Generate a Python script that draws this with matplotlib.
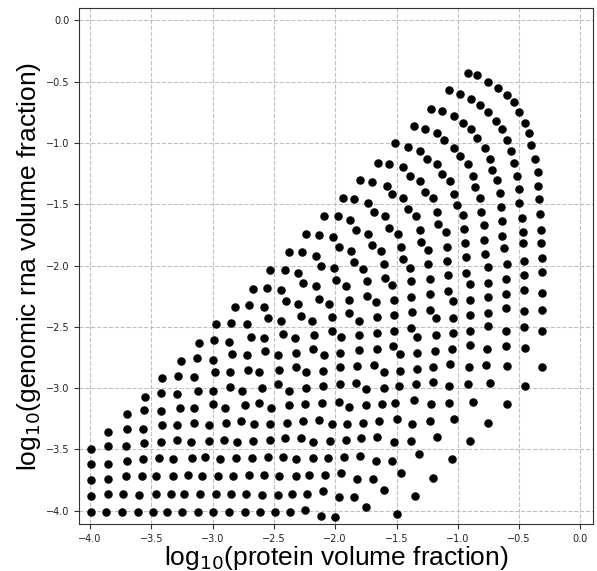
import numpy as np
import matplotlib.pyplot as plt

# log10 volume fractions, grouped by region
pts_lower_left = [
    (-3.99, -4.01), (-3.87, -4.01), (-3.74, -4.01), (-3.61, -4.01), (-3.49, -4.01), (-3.37, -4.01), (-3.25, -4.01), (-3.12, -4.01), (-3.00, -4.01), (-2.87, -4.01),
    (-3.99, -3.88), (-3.85, -3.86), (-3.73, -3.86), (-3.60, -3.87), (-3.46, -3.86), (-3.34, -3.86), (-3.23, -3.86), (-3.10, -3.86), (-2.97, -3.86), (-2.85, -3.86),
    (-3.99, -3.75), (-3.85, -3.74), (-3.71, -3.72), (-3.58, -3.72), (-3.46, -3.72), (-3.32, -3.72), (-3.20, -3.71), (-3.09, -3.72), (-2.96, -3.72), (-2.83, -3.72),
    (-3.99, -3.62), (-3.85, -3.62), (-3.70, -3.59), (-3.57, -3.58), (-3.44, -3.57), (-3.32, -3.58), (-3.17, -3.57), (-3.06, -3.56), (-2.94, -3.58), (-2.81, -3.57),
    (-3.99, -3.50), (-3.85, -3.47), (-3.71, -3.47), (-3.56, -3.45), (-3.42, -3.44), (-3.29, -3.42), (-3.18, -3.44), (-3.03, -3.43), (-2.91, -3.42), (-2.80, -3.44),
    (-3.85, -3.36), (-3.70, -3.33), (-3.57, -3.33), (-3.41, -3.30), (-3.29, -3.30), (-3.15, -3.28), (-3.03, -3.30), (-2.89, -3.28),
    (-3.70, -3.21), (-3.56, -3.18), (-3.42, -3.19), (-3.27, -3.16), (-3.15, -3.16), (-3.00, -3.13), (-2.90, -3.16),
    (-3.55, -3.07), (-3.42, -3.04), (-3.29, -3.05), (-3.12, -3.02), (-3.00, -3.02), (-2.86, -2.99),
    (-3.41, -2.92), (-3.28, -2.90), (-3.15, -2.91), (-2.98, -2.87), (-2.86, -2.87),
    (-3.26, -2.78), (-3.13, -2.75), (-3.00, -2.77), (-2.84, -2.72),
    (-3.11, -2.63), (-2.99, -2.61), (-2.87, -2.62), (-2.97, -2.48), (-2.85, -2.47), (-2.82, -2.34),
]

pts_lower_mid = [
    (-2.71, -2.85), (-2.62, -2.87), (-2.46, -2.85), (-2.32, -2.83), (-2.24, -2.87), (-2.10, -2.86), (-1.96, -2.83), (-1.82, -2.82), (-1.68, -2.81), (-1.60, -2.87),
    (-2.76, -3.02), (-2.60, -3.00), (-2.47, -2.97), (-2.38, -3.02), (-2.24, -3.00), (-2.10, -2.98), (-1.96, -2.97), (-1.83, -2.96), (-1.75, -3.01), (-1.60, -3.00),
    (-2.74, -3.14), (-2.62, -3.12), (-2.52, -3.16), (-2.38, -3.14), (-2.25, -3.13), (-2.11, -3.12), (-1.97, -3.11), (-1.89, -3.15), (-1.75, -3.14), (-1.62, -3.13),
    (-2.77, -3.27), (-2.66, -3.29), (-2.53, -3.29), (-2.39, -3.28), (-2.26, -3.27), (-2.13, -3.26), (-2.03, -3.29), (-1.90, -3.29), (-1.77, -3.28), (-1.64, -3.27),
    (-2.67, -3.43), (-2.53, -3.42), (-2.41, -3.41), (-2.28, -3.41), (-2.18, -3.44), (-2.04, -3.43), (-1.91, -3.42), (-1.79, -3.41), (-1.66, -3.40),
    (-2.68, -3.57), (-2.55, -3.56), (-2.43, -3.56), (-2.32, -3.58), (-2.18, -3.57), (-2.06, -3.57), (-1.93, -3.56), (-1.80, -3.55), (-1.67, -3.59),
    (-2.70, -3.71), (-2.58, -3.71), (-2.46, -3.72), (-2.32, -3.72), (-2.21, -3.71), (-2.08, -3.71), (-1.95, -3.69), (-1.82, -3.74), (-1.69, -3.74),
    (-2.73, -3.86), (-2.60, -3.87), (-2.47, -3.87), (-2.35, -3.86), (-2.23, -3.86), (-2.10, -3.84), (-1.97, -3.89), (-1.85, -3.89), (-1.60, -3.83),
    (-2.74, -4.01), (-2.61, -4.01), (-2.49, -4.01), (-2.37, -4.01), (-2.25, -3.99), (-2.12, -4.04), (-2.00, -4.05), (-1.75, -3.97),
]

pts_lower_right = [
    (-1.47, -2.86), (-1.33, -2.84), (-1.20, -2.83), (-1.06, -2.80), (-0.91, -2.83), (-0.77, -2.81), (-0.60, -2.82), (-0.31, -2.83),
    (-1.48, -2.98), (-1.34, -2.97), (-1.20, -2.95), (-1.07, -2.98), (-0.92, -2.97), (-0.74, -2.96), (-0.45, -2.98),
    (-1.51, -3.12), (-1.36, -3.10), (-1.22, -3.13), (-1.07, -3.12), (-0.88, -3.11), (-0.60, -3.13),
    (-1.50, -3.25), (-1.37, -3.29), (-1.23, -3.27), (-1.03, -3.25), (-0.75, -3.28),
    (-1.52, -3.44), (-1.38, -3.43), (-1.17, -3.40), (-0.90, -3.43),
    (-1.54, -3.59), (-1.32, -3.54), (-1.05, -3.58),
    (-1.46, -3.69), (-1.20, -3.73),
    (-1.35, -3.88),
    (-1.50, -4.03),
]

pts_middle = [
    (-2.09, -1.60), (-1.98, -1.60), (-1.88, -1.63), (-1.68, -1.56), (-1.59, -1.60),
    (-2.24, -1.74), (-2.13, -1.75), (-2.02, -1.77), (-1.83, -1.71), (-1.73, -1.74),
    (-2.38, -1.89), (-2.27, -1.89), (-2.16, -1.92), (-1.97, -1.85), (-1.87, -1.88), (-1.70, -1.83), (-1.63, -1.88),
    (-2.53, -2.04), (-2.41, -2.04), (-2.30, -2.06), (-2.12, -2.00), (-2.01, -2.02), (-1.85, -1.97), (-1.77, -2.03), (-1.60, -1.99),
    (-2.67, -2.19), (-2.56, -2.18), (-2.44, -2.20), (-2.26, -2.14), (-2.16, -2.17), (-1.99, -2.12), (-1.91, -2.17), (-1.74, -2.13), (-1.59, -2.10),
    (-2.70, -2.32), (-2.58, -2.34), (-2.40, -2.29), (-2.30, -2.31), (-2.13, -2.27), (-2.05, -2.31), (-1.89, -2.28), (-1.74, -2.25), (-1.67, -2.30),
    (-2.72, -2.48), (-2.55, -2.43), (-2.44, -2.45), (-2.28, -2.41), (-2.19, -2.45), (-2.03, -2.42), (-1.89, -2.39), (-1.81, -2.45), (-1.66, -2.42),
    (-2.69, -2.58), (-2.58, -2.59), (-2.43, -2.56), (-2.33, -2.59), (-2.17, -2.57), (-2.03, -2.53), (-1.95, -2.58), (-1.81, -2.57), (-1.66, -2.55),
    (-2.72, -2.73), (-2.57, -2.70), (-2.47, -2.73), (-2.32, -2.71), (-2.18, -2.68), (-2.09, -2.73), (-1.96, -2.71), (-1.81, -2.69), (-1.66, -2.68),
    (-1.65, -1.16), (-1.80, -1.30), (-1.70, -1.32), (-1.94, -1.45), (-1.85, -1.46), (-1.73, -1.49),
]

pts_upper = [
    (-0.92, -0.43), (-0.84, -0.45), (-0.75, -0.50), (-0.67, -0.55), (-0.60, -0.61), (-0.54, -0.67), (-0.50, -0.75),
    (-0.45, -0.84), (-0.42, -0.92), (-0.40, -1.02), (-0.37, -1.13), (-0.35, -1.24), (-0.35, -1.35), (-0.34, -1.46),
    (-1.07, -0.57), (-0.98, -0.60), (-0.89, -0.64), (-0.82, -0.69), (-0.75, -0.75), (-0.69, -0.82), (-0.64, -0.89),
    (-0.60, -0.98), (-0.57, -1.07), (-0.54, -1.16), (-0.52, -1.27), (-0.50, -1.38), (-0.50, -1.49),
    (-1.22, -0.72), (-1.13, -0.74), (-1.03, -0.78), (-0.96, -0.84), (-0.89, -0.89), (-0.84, -0.96), (-0.78, -1.04),
    (-0.74, -1.13), (-0.72, -1.22), (-0.68, -1.30), (-0.66, -1.41), (-0.65, -1.52),
    (-1.36, -0.86), (-1.27, -0.89), (-1.17, -0.92), (-1.11, -0.98), (-1.03, -1.04), (-0.98, -1.11), (-0.92, -1.17),
    (-0.88, -1.27), (-0.86, -1.36), (-0.82, -1.45),
    (-1.51, -1.00), (-1.41, -1.03), (-1.31, -1.07), (-1.25, -1.13), (-1.17, -1.17), (-1.13, -1.25), (-1.06, -1.31),
    (-1.03, -1.42), (-1.01, -1.51),
    (-1.56, -1.17), (-1.45, -1.20), (-1.39, -1.27), (-1.31, -1.31), (-1.27, -1.40), (-1.20, -1.45),
    (-1.58, -1.35), (-1.54, -1.42), (-1.45, -1.45), (-1.41, -1.54),
]

pts_right = [
    (-1.34, -1.60), (-1.17, -1.56), (-0.96, -1.59), (-0.81, -1.56), (-0.48, -1.61), (-0.33, -1.58),
    (-1.56, -1.69), (-1.49, -1.74), (-1.31, -1.71), (-1.16, -1.66), (-1.10, -1.73), (-0.95, -1.70), (-0.79, -1.67),
    (-0.64, -1.64), (-0.64, -1.76), (-0.47, -1.73), (-0.32, -1.71),
    (-1.46, -1.85), (-1.30, -1.81), (-1.24, -1.87), (-1.09, -1.85), (-0.94, -1.82), (-0.79, -1.79), (-0.78, -1.91),
    (-0.62, -1.86), (-0.47, -1.82), (-0.32, -1.82),
    (-1.45, -1.95), (-1.39, -2.02), (-1.24, -1.99), (-1.09, -1.96), (-0.93, -1.93), (-0.93, -2.06), (-0.75, -2.01),
    (-0.60, -1.99), (-0.46, -1.96), (-0.31, -1.94),
    (-1.54, -2.16), (-1.38, -2.13), (-1.23, -2.11), (-1.08, -2.08), (-0.90, -2.15), (-0.75, -2.14), (-0.61, -2.11),
    (-0.46, -2.08), (-0.31, -2.05),
    (-1.52, -2.28), (-1.38, -2.26), (-1.23, -2.23), (-1.08, -2.21), (-1.04, -2.29), (-0.90, -2.28), (-0.75, -2.26),
    (-0.61, -2.23), (-0.46, -2.20), (-0.31, -2.22),
    (-1.52, -2.40), (-1.37, -2.38), (-1.23, -2.36), (-1.18, -2.43), (-1.04, -2.43), (-0.90, -2.40), (-0.75, -2.39),
    (-0.61, -2.35), (-0.46, -2.37), (-0.31, -2.36),
    (-1.52, -2.53), (-1.38, -2.51), (-1.33, -2.58), (-1.18, -2.57), (-1.04, -2.55), (-0.90, -2.53), (-0.75, -2.49),
    (-0.61, -2.53), (-0.46, -2.50), (-0.31, -2.53),
    (-1.53, -2.66), (-1.47, -2.72), (-1.33, -2.71), (-1.19, -2.70), (-1.05, -2.68), (-0.90, -2.65), (-0.76, -2.68),
    (-0.61, -2.66), (-0.45, -2.67),
]

ticks = [-4.0, -3.5, -3.0, -2.5, -2.0, -1.5, -1.0, -0.5, 0.0]

pts = np.array(pts_lower_left + pts_lower_mid + pts_lower_right + pts_middle + pts_upper + pts_right)

fig = plt.figure(figsize=(5.97, 5.71), dpi=100)
ax = fig.add_axes([0.1323, 0.0818, 0.8605, 0.9042])
ax.scatter(pts[:, 0], pts[:, 1], s=26, c='k', zorder=3)

ax.set_xlim(-4.09, 0.1)
ax.set_ylim(-4.11, 0.1)
ax.set_xticks(ticks)
ax.set_yticks(ticks)
ax.tick_params(labelsize=7, colors='#333333', labelcolor='#222222')
ax.grid(True, linestyle='--', color='#c0c0c0', linewidth=0.8)
ax.set_axisbelow(True)
for s in ax.spines.values():
    s.set_color('#333333')

ax.set_xlabel(r'log$_{10}$(protein volume fraction)', fontsize=19, family='Liberation Sans', labelpad=0)
ax.set_ylabel(r'log$_{10}$(genomic rna volume fraction)', fontsize=19, family='Liberation Sans', labelpad=2)

fig.savefig('out.png', dpi=100)
